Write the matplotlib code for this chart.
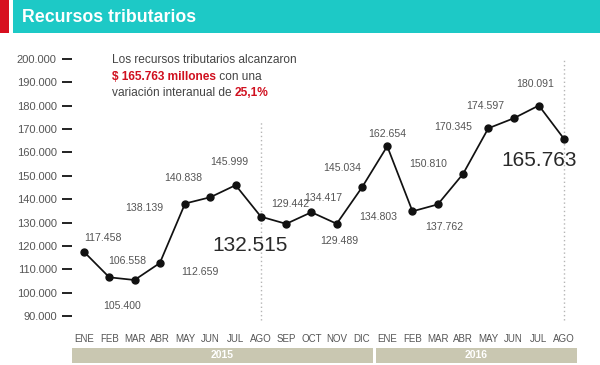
import matplotlib
matplotlib.use("Agg")
import matplotlib.pyplot as plt
from matplotlib.patches import Rectangle
import matplotlib.transforms as mtransforms

# ---------------- data ----------------
months = ["ENE", "FEB", "MAR", "ABR", "MAY", "JUN", "JUL", "AGO", "SEP", "OCT", "NOV", "DIC",
          "ENE", "FEB", "MAR", "ABR", "MAY", "JUN", "JUL", "AGO"]
values = [117458, 106558, 105400, 112659, 138139, 140838, 145999, 132515, 129442, 134417, 129489, 145034,
          162654, 134803, 137762, 150810, 170345, 174597, 180091, 165763]
value_labels = ["117.458", "106.558", "105.400", "112.659", "138.139", "140.838", "145.999", "132.515",
                "129.442", "134.417", "129.489", "145.034", "162.654", "134.803", "137.762", "150.810",
                "170.345", "174.597", "180.091", "165.763"]
years = ["2015", "2016"]
year_months = [12, 8]
y_ticks = [90000, 100000, 110000, 120000, 130000, 140000, 150000, 160000, 170000, 180000, 190000, 200000]
y_tick_labels = ["90.000", "100.000", "110.000", "120.000", "130.000", "140.000", "150.000",
                 "160.000", "170.000", "180.000", "190.000", "200.000"]
title = "Recursos tributarios"
note_1 = "Los recursos tributarios alcanzaron"
note_2a, note_2b = "$ 165.763 millones", " con una"
note_3a, note_3b = "variación interanual de ", "25,1%"
big_idx = [7, 19]

# label offsets (pixels, y up) relative to each point -- styling only
offsets = [(19, 14), (18, 16), (-12, -26), (40, -9), (-41, -4), (-27, 19), (-6, 23), (-11, -29),
           (4, 20), (12, 14), (3, -17), (-20, 19), (0, 12), (-34, -6), (6, -23), (-35, 10),
           (-35, 1), (-28, 12), (-4, 22), (-25, -22)]

FONT = ["Liberation Sans", "DejaVu Sans"]
plt.rcParams["font.family"] = FONT

W, H = 600, 365
fig = plt.figure(figsize=(W / 100, H / 100), dpi=100)
fig.patch.set_facecolor("white")


def fx(px):
    return px / W


def fy(py):
    return 1 - py / H


# header
fig.patches.append(Rectangle((0, fy(33)), fx(9), 33 / H, transform=fig.transFigure,
                             facecolor="#d7101f", edgecolor="none"))
fig.patches.append(Rectangle((fx(13), fy(33)), 1 - fx(13), 33 / H, transform=fig.transFigure,
                             facecolor="#1dc9c6", edgecolor="none"))
fig.text(fx(22), fy(18), title, color="white", fontsize=12.8, fontweight="bold",
         va="center", ha="left")

# axes
ax_left, ax_right, ax_top, ax_bot = 72, 577, 40, 330
ax = fig.add_axes([fx(ax_left), fy(ax_bot), (ax_right - ax_left) / W, (ax_bot - ax_top) / H])
ax.set_facecolor("none")
for s in ax.spines.values():
    s.set_visible(False)

xs = list(range(len(values)))
ax.set_xlim(-0.475, 19.51)
ax.set_ylim(84007, 208134)

# dotted vertical guide lines
ax.axvline(big_idx[0], ymin=0.0345, ymax=0.724, color="#b5b5b5", linestyle=(0, (1, 2)), lw=1)
ax.axvline(big_idx[1], ymin=0.0345, ymax=0.938, color="#b5b5b5", linestyle=(0, (1, 2)), lw=1)

ax.plot(xs, values, color="#111111", lw=1.25, marker="o", markersize=5, zorder=3)

for i, (v, lab, off) in enumerate(zip(values, value_labels, offsets)):
    big = i in big_idx
    ax.annotate(lab, (i, v), xytext=off, textcoords="offset pixels", ha="center", va="center",
                fontsize=15 if big else 7.6, color="#2a2a2a" if big else "#555555")

# y axis ticks
ax.set_yticks(y_ticks)
ax.set_yticklabels(y_tick_labels)
ax.tick_params(axis="y", length=7, width=1.4, color="#222222", pad=4, labelsize=8,
               labelcolor="#555555", direction="out")
# x axis ticks
ax.set_xticks(xs)
ax.set_xticklabels(months)
ax.tick_params(axis="x", length=0, pad=3, labelsize=7, labelcolor="#555555")

# year bands
trans = mtransforms.blended_transform_factory(ax.transData, fig.transFigure)
pos = 0
for k, (yr, n) in enumerate(zip(years, year_months)):
    left = -0.475 if k == 0 else pos - 0.5 + 0.06
    right = (pos + n - 0.5 - 0.06) if k < len(years) - 1 else 19.51
    fig.patches.append(Rectangle((left, fy(363)), right - left, 15 / H, transform=trans,
                                 facecolor="#c9c7b1", edgecolor="none"))
    fig.text((left + right) / 2, fy(355.5), yr, transform=trans, color="white", fontsize=7.5,
             fontweight="bold", ha="center", va="center")
    pos += n

# annotation text
NOTE_FS = 8.6
fig.text(fx(112), fy(60), note_1, color="#444444", fontsize=NOTE_FS, ha="left", va="center")
t2 = fig.text(fx(112), fy(76.5), note_2a, color="#d0101f", fontsize=NOTE_FS,
              fontweight="bold", ha="left", va="center")
t3 = fig.text(fx(112), fy(93), note_3a, color="#444444", fontsize=NOTE_FS,
              ha="left", va="center")
fig.canvas.draw()
r = fig.canvas.get_renderer()
bb2 = t2.get_window_extent(r)
bb3 = t3.get_window_extent(r)
fig.text(bb2.x1 / W, fy(76.5), note_2b, color="#444444", fontsize=NOTE_FS, ha="left", va="center")
fig.text(bb3.x1 / W, fy(93), note_3b, color="#d0101f", fontsize=NOTE_FS, fontweight="bold",
         ha="left", va="center")

fig.savefig("out.png", dpi=100)
